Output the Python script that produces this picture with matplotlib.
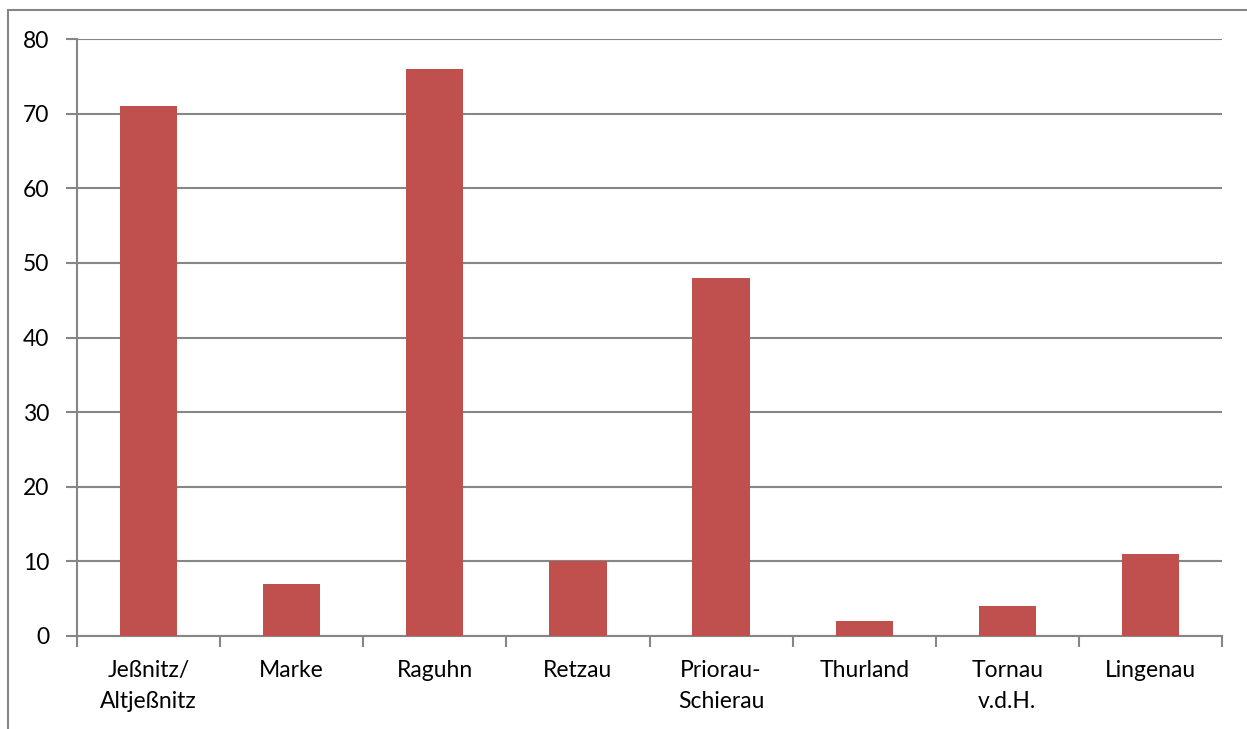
import matplotlib
matplotlib.use("Agg")
import matplotlib.pyplot as plt
from matplotlib.patches import Rectangle

# === data ===
orte = ["Jeßnitz/\nAltjeßnitz", "Marke", "Raguhn", "Retzau", "Priorau-\nSchierau",
        "Thurland", "Tornau\nv.d.H.", "Lingenau"]
werte = [71, 7, 76, 10, 48, 2, 4, 11]
y_ticks = [0, 10, 20, 30, 40, 50, 60, 70, 80]

bar_color = "#C0504D"
grid_color = "#868686"

plt.rcParams["font.family"] = ["Lato", "DejaVu Sans"]

W, H = 1247, 729
fig = plt.figure(figsize=(W / 100, H / 100), dpi=100)

# outer chart border (cut off at right and bottom like in the source)
fig.patches.append(Rectangle((8 / W, -0.1), 1.2, 1 - 10 / H + 0.1, transform=fig.transFigure,
                             fill=False, edgecolor=grid_color, linewidth=1.5))

ax = fig.add_axes([77 / W, 1 - 636 / H, (1222 - 77) / W, (636 - 39) / H])

x = range(len(orte))
ax.bar(x, werte, width=0.4, color=bar_color, zorder=3)

ax.set_xlim(-0.5, len(orte) - 0.5)
ax.set_ylim(0, 80)
ax.set_yticks(y_ticks)
ax.yaxis.grid(True, color=grid_color, linewidth=1.5, zorder=0)

ax.set_xticks([i + 0.5 for i in range(-1, len(orte))], minor=False)
ax.set_xticklabels([])
ax.set_xticks(list(x), minor=True)
ax.set_xticklabels(orte, minor=True, fontsize=16.5, linespacing=1.6)
ax.tick_params(axis="x", which="major", length=8, width=1.5, color=grid_color)
ax.tick_params(axis="x", which="minor", length=0, pad=17)
ax.tick_params(axis="y", length=8, width=1.5, color=grid_color, labelsize=16.5, pad=12)

for s in ["top", "right"]:
    ax.spines[s].set_visible(False)
for s in ["left", "bottom"]:
    ax.spines[s].set_color(grid_color)
    ax.spines[s].set_linewidth(1.5)

fig.savefig("out.png", dpi=100)
